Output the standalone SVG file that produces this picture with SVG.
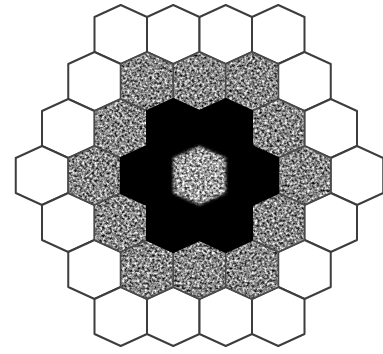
<svg xmlns="http://www.w3.org/2000/svg" xmlns:xlink="http://www.w3.org/1999/xlink" width="383" height="354" viewBox="0 0 383 354">
<defs>
<polygon id="hex" points="0,-29.5 26.25,-17.5 26.25,17.5 0,29.5 -26.25,17.5 -26.25,-17.5"/>
<filter id="grain" x="0" y="0" width="1" height="1" color-interpolation-filters="sRGB">
<feTurbulence type="fractalNoise" baseFrequency="0.4" numOctaves="2" seed="7" result="n"/>
<feGaussianBlur in="n" stdDeviation="0.4" result="nb"/>
<feColorMatrix in="nb" type="matrix" values="1.6 0 0 0 -0.27  1.6 0 0 0 -0.27  1.6 0 0 0 -0.27  0 0 0 0 1" result="g"/>
<feComposite in="g" in2="SourceAlpha" operator="in"/>
</filter>
<filter id="grainC" x="-0.1" y="-0.1" width="1.2" height="1.2" color-interpolation-filters="sRGB">
<feTurbulence type="fractalNoise" baseFrequency="0.4" numOctaves="2" seed="11" result="n"/>
<feGaussianBlur in="n" stdDeviation="0.4" result="nb"/>
<feColorMatrix in="nb" type="matrix" values="1.6 0 0 0 -0.17  1.6 0 0 0 -0.17  1.6 0 0 0 -0.17  0 0 0 0 1" result="g"/>
<feGaussianBlur in="SourceAlpha" stdDeviation="1.6" result="a"/>
<feComposite in="g" in2="a" operator="in"/>
</filter>
</defs>
<style>
.w{fill:#fff;stroke:#3d3d3d;stroke-width:2;stroke-linejoin:round}
.gf{filter:url(#grain)}
.gl{fill:none;stroke:#4a4a4a;stroke-width:1.4;stroke-linejoin:round}
.b{fill:#000;stroke:#000;stroke-width:2;stroke-linejoin:round}
.c{filter:url(#grainC)}
</style>
<rect width="383" height="354" fill="#fff"/>
<g id="white-ring">
<g id="w0a"><use href="#hex" class="w" x="120.75" y="34.5"/></g>
<g id="w0b"><use href="#hex" class="w" x="173.25" y="34.5"/></g>
<g id="w0c"><use href="#hex" class="w" x="225.75" y="34.5"/></g>
<g id="w0d"><use href="#hex" class="w" x="278.25" y="34.5"/></g>
<g id="w1a"><use href="#hex" class="w" x="94.5" y="81.5"/></g>
<g id="w1b"><use href="#hex" class="w" x="304.5" y="81.5"/></g>
<g id="w2a"><use href="#hex" class="w" x="68.25" y="128.5"/></g>
<g id="w2b"><use href="#hex" class="w" x="330.75" y="128.5"/></g>
<g id="w3a"><use href="#hex" class="w" x="42" y="175.5"/></g>
<g id="w3b"><use href="#hex" class="w" x="357" y="175.5"/></g>
<g id="w4a"><use href="#hex" class="w" x="68.25" y="222.5"/></g>
<g id="w4b"><use href="#hex" class="w" x="330.75" y="222.5"/></g>
<g id="w5a"><use href="#hex" class="w" x="94.5" y="269.5"/></g>
<g id="w5b"><use href="#hex" class="w" x="304.5" y="269.5"/></g>
<g id="w6a"><use href="#hex" class="w" x="120.75" y="316.5"/></g>
<g id="w6b"><use href="#hex" class="w" x="173.25" y="316.5"/></g>
<g id="w6c"><use href="#hex" class="w" x="225.75" y="316.5"/></g>
<g id="w6d"><use href="#hex" class="w" x="278.25" y="316.5"/></g>
</g>
<g id="grey-ring">
<g id="g1a"><polygon class="gf" points="147,52 173.25,64 173.25,99 147,111 120.75,99 120.75,64"/><polygon class="gl" points="147,52 173.25,64 173.25,99 147,111 120.75,99 120.75,64"/></g>
<g id="g1b"><polygon class="gf" points="199.5,52 225.75,64 225.75,99 199.5,111 173.25,99 173.25,64"/><polygon class="gl" points="199.5,52 225.75,64 225.75,99 199.5,111 173.25,99 173.25,64"/></g>
<g id="g1c"><polygon class="gf" points="252,52 278.25,64 278.25,99 252,111 225.75,99 225.75,64"/><polygon class="gl" points="252,52 278.25,64 278.25,99 252,111 225.75,99 225.75,64"/></g>
<g id="g2a"><polygon class="gf" points="120.75,99 147,111 147,146 120.75,158 94.5,146 94.5,111"/><polygon class="gl" points="120.75,99 147,111 147,146 120.75,158 94.5,146 94.5,111"/></g>
<g id="g2b"><polygon class="gf" points="278.25,99 304.5,111 304.5,146 278.25,158 252,146 252,111"/><polygon class="gl" points="278.25,99 304.5,111 304.5,146 278.25,158 252,146 252,111"/></g>
<g id="g3a"><polygon class="gf" points="94.5,146 120.75,158 120.75,193 94.5,205 68.25,193 68.25,158"/><polygon class="gl" points="94.5,146 120.75,158 120.75,193 94.5,205 68.25,193 68.25,158"/></g>
<g id="g3b"><polygon class="gf" points="304.5,146 330.75,158 330.75,193 304.5,205 278.25,193 278.25,158"/><polygon class="gl" points="304.5,146 330.75,158 330.75,193 304.5,205 278.25,193 278.25,158"/></g>
<g id="g4a"><polygon class="gf" points="120.75,193 147,205 147,240 120.75,252 94.5,240 94.5,205"/><polygon class="gl" points="120.75,193 147,205 147,240 120.75,252 94.5,240 94.5,205"/></g>
<g id="g4b"><polygon class="gf" points="278.25,193 304.5,205 304.5,240 278.25,252 252,240 252,205"/><polygon class="gl" points="278.25,193 304.5,205 304.5,240 278.25,252 252,240 252,205"/></g>
<g id="g5a"><polygon class="gf" points="147,240 173.25,252 173.25,287 147,299 120.75,287 120.75,252"/><polygon class="gl" points="147,240 173.25,252 173.25,287 147,299 120.75,287 120.75,252"/></g>
<g id="g5b"><polygon class="gf" points="199.5,240 225.75,252 225.75,287 199.5,299 173.25,287 173.25,252"/><polygon class="gl" points="199.5,240 225.75,252 225.75,287 199.5,299 173.25,287 173.25,252"/></g>
<g id="g5c"><polygon class="gf" points="252,240 278.25,252 278.25,287 252,299 225.75,287 225.75,252"/><polygon class="gl" points="252,240 278.25,252 278.25,287 252,299 225.75,287 225.75,252"/></g>
</g>
<g id="black-ring">
<g id="b2a"><use href="#hex" class="b" x="173.25" y="128.5"/></g>
<g id="b2b"><use href="#hex" class="b" x="225.75" y="128.5"/></g>
<g id="b3a"><use href="#hex" class="b" x="147" y="175.5"/></g>
<g id="b3b"><use href="#hex" class="b" x="252" y="175.5"/></g>
<g id="b4a"><use href="#hex" class="b" x="173.25" y="222.5"/></g>
<g id="b4b"><use href="#hex" class="b" x="225.75" y="222.5"/></g>
</g>
<g id="center">
<polygon fill="#000" points="199.5,146 225.75,158 225.75,193 199.5,205 173.25,193 173.25,158"/>
<polygon class="c" points="199.5,146 225.75,158 225.75,193 199.5,205 173.25,193 173.25,158"/>
</g>
</svg>
